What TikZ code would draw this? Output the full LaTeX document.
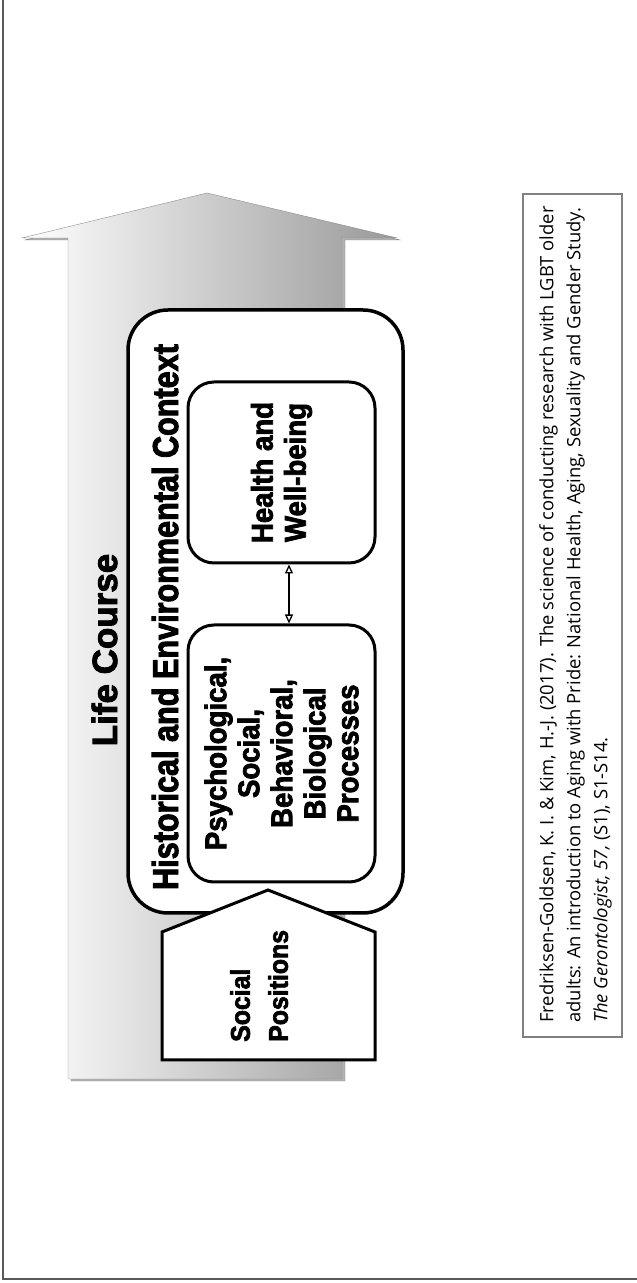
\documentclass[tikz,border=0pt]{standalone}
\usepackage{fontspec}
\setmainfont{Liberation Sans}
\newfontfamily\diafont[FakeBold=2.5]{Liberation Sans}
\newfontfamily\ctxfont[FakeStretch=0.85,FakeBold=2.5]{Liberation Sans}
\newfontfamily\boxfont[FakeStretch=0.92,FakeBold=2.5]{Liberation Sans}
\newfontfamily\citefont{Open Sans}
\usetikzlibrary{arrows.meta,positioning,calc}

\begin{document}
\begin{tikzpicture}[x=1pt,y=1pt,
  ctxbox/.style={draw,line width=3.5pt,fill=white,rounded corners=40pt,inner sep=0pt},
  procbox/.style={draw,line width=3pt,fill=white,rounded corners=26pt,inner sep=0pt,
    align=center,font=\boxfont\bfseries\fontsize{30}{33}\selectfont},
  sostext/.style={align=left,inner sep=0pt,font=\boxfont\bfseries\fontsize{27}{38}\selectfont},
  citebox/.style={draw=black!50,line width=1.2pt},
  linkarrow/.style={{Triangle[open,length=9pt,width=8pt]}-{Triangle[open,length=9pt,width=8pt]},line width=1.3pt}]
\useasboundingbox (0,0) rectangle (637,1283);
% frame
\draw[black!65,line width=1.5pt] (3,1283) -- (3,4) -- (637,4);
% life course arrow
\draw[black!50,fill=black!30] (71,202) -- (345,202) -- (345,1043) -- (400,1043) -- (210,1088) -- (25,1043) -- (71,1043) -- cycle;
\draw[black!45,left color=white,right color=black!40] (68,204) -- (342,204) -- (342,1045) -- (397,1045) -- (207,1090) -- (22,1045) -- (68,1045) -- cycle;
\node[rotate=90,anchor=base,font=\diafont\bfseries\fontsize{35}{40}\selectfont] (lifecourse) at (117,633) {Life Course};
% context
\node[ctxbox,minimum width=275pt,minimum height=603pt] (ctx) at (265.5,671.5) {};
\node[rotate=90,anchor=base,font=\ctxfont\bfseries\fontsize{36}{40}\selectfont] (ctxtitle) at (178,666) {Historical and Environmental Context};
\node[procbox,rotate=90,minimum width=181pt,minimum height=187pt] (health) at (281.5,810.5) {Health and\\Well-being};
\node[procbox,rotate=90,minimum width=257pt,minimum height=187pt] (psych) at (281.5,529.5) {Psychological,\\Social,\\Behavioral,\\Biological\\Processes};
\draw[linkarrow] ([xshift=7.5pt]psych.east) -- ([xshift=7.5pt]health.west);
% social positions
\draw[line width=3pt,fill=white] (162,223) -- (375,223) -- (375,351) -- (268,393) -- (162,351) -- cycle;
\node[sostext,rotate=90,anchor=north west] (sospos) at (230,241) {Social\\Positions};
% citation
\draw[citebox] (523,246) rectangle (622,1089);
\node[rotate=90,anchor=north west,align=left,inner sep=0pt,font=\citefont\fontsize{18.4}{27}\selectfont] (cite) at (539,260)
  {Fredriksen-Goldsen, K. I. \& Kim, H.-J. (2017). The science of conducting research with LGBT older\\
   adults: An introduction to Aging with Pride: National Health, Aging, Sexuality and Gender Study.\\
   \textit{The Gerontologist, 57,} (S1), S1-S14.};
\end{tikzpicture}
\end{document}
